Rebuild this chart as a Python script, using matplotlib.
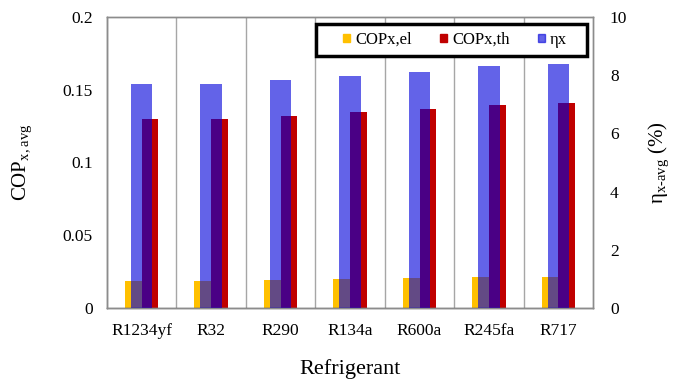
import numpy as np
import matplotlib
matplotlib.use("Agg")
import matplotlib.pyplot as plt
from matplotlib.patches import Patch, Rectangle

plt.rcParams['font.family'] = ['Liberation Serif', 'DejaVu Serif']
plt.rcParams['mathtext.fontset'] = 'custom'
plt.rcParams['mathtext.rm'] = 'Liberation Serif'

refrigerants = ['R1234yf', 'R32', 'R290', 'R134a', 'R600a', 'R245fa', 'R717']
cop_el = [0.0188, 0.0188, 0.0195, 0.0199, 0.0203, 0.0213, 0.0215]
cop_th = [0.1301, 0.1301, 0.1322, 0.1347, 0.1368, 0.1397, 0.1406]
eta_x = [7.68, 7.69, 7.84, 7.98, 8.10, 8.32, 8.38]  # %

c_el = '#FFC000'
c_th = '#C00000'
c_eta = (0, 0, 0.855)
eta_alpha = 0.61

fig = plt.figure(figsize=(6.85, 3.83), dpi=100)
ax = fig.add_axes([0.156, 0.196, 0.710, 0.760])
x = np.arange(len(refrigerants))

ax.bar(x - 0.12, cop_el, width=0.24, color=c_el, zorder=2)
ax.bar(x + 0.12, cop_th, width=0.24, color=c_th, zorder=2)
ax.set_xlim(-0.5, len(refrigerants) - 0.5)
ax.set_ylim(0, 0.2)
ax.set_yticks([0, 0.05, 0.1, 0.15, 0.2])
ax.set_yticklabels(['0', '0.05', '0.1', '0.15', '0.2'])
ax.set_xticks(x)
ax.set_xticklabels(refrigerants)
ax.tick_params(axis='both', length=0, labelsize=12.5)
ax.tick_params(axis='y', pad=10)
ax.tick_params(axis='x', pad=11)

# category separators
for b in np.arange(0.5, len(refrigerants) - 0.5, 1):
    ax.axvline(b, color='#a6a6a6', lw=1, zorder=1)

ax.set_xlabel('Refrigerant', fontsize=16, labelpad=14)
ax.set_ylabel(r'COP$_{\mathregular{x,avg}}$', fontsize=15, labelpad=20)

ax2 = ax.twinx()
ax2.bar(x, eta_x, width=0.31, color=c_eta, alpha=eta_alpha, zorder=3)
ax2.set_ylim(0, 10)
ax2.set_yticks([0, 2, 4, 6, 8, 10])
ax2.tick_params(axis='y', length=0, labelsize=12.5, pad=12)
ax2.set_ylabel('η$_{\\mathregular{x‐avg}}$ (%)', fontsize=15, labelpad=14)

for a in (ax, ax2):
    for side in a.spines.values():
        side.set_color('#8c8c8c')
        side.set_linewidth(1)
ax.spines['left'].set_color('#595959')
ax.spines['bottom'].set_color('#595959')

# legend: white box with a heavy black border, entries centred inside
ax2.add_patch(Rectangle((0.430, 0.866), 0.558, 0.110, transform=ax2.transAxes,
                        facecolor='white', edgecolor='black', lw=2.5, zorder=9))
handles = [Patch(color=c_el), Patch(color=c_th), Patch(color=c_eta, alpha=eta_alpha)]
leg = ax2.legend(handles, ['COPx,el', 'COPx,th', 'ηx'], ncol=3,
                 loc='center', bbox_to_anchor=(0.716, 0.921),
                 fontsize=12, frameon=False,
                 handlelength=0.42, handleheight=0.42, handletextpad=0.3,
                 columnspacing=1.7, borderaxespad=0, borderpad=0)
leg.set_zorder(10)

fig.savefig('out.png', dpi=100)
